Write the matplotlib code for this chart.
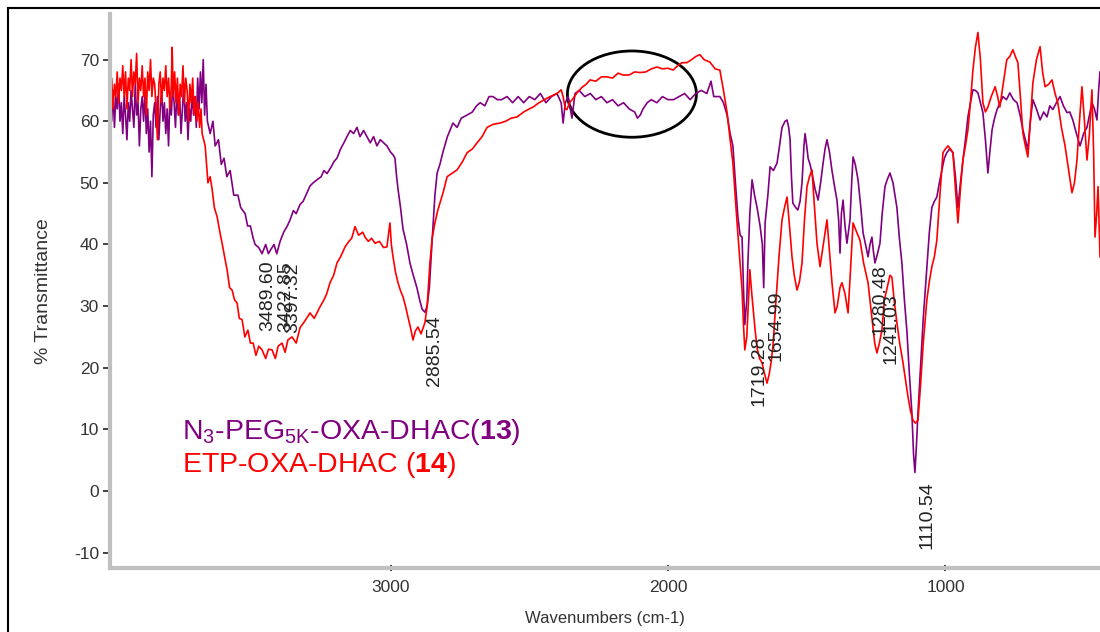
import numpy as np
import matplotlib
matplotlib.use("Agg")
from matplotlib import pyplot as plt
from matplotlib.patches import Ellipse
from matplotlib.lines import Line2D
import matplotlib.transforms as mtransforms

# N3-PEG5K-OXA-DHAC (13): wavenumber, %T
wn13 = [4010, 4005, 4000, 3995, 3990, 3985, 3980, 3975, 3970, 3965, 3960, 3955, 3950, 3945, 3940, 3935,
        3930, 3925, 3920, 3915, 3910, 3905, 3900, 3895, 3890, 3885, 3880, 3875, 3870, 3865, 3860, 3855,
        3850, 3845, 3840, 3835, 3830, 3825, 3820, 3815, 3810, 3805, 3800, 3795, 3790, 3785, 3780, 3775,
        3770, 3765, 3760, 3755, 3750, 3745, 3740, 3735, 3730, 3725, 3720, 3715, 3710, 3705, 3700, 3695,
        3690, 3685, 3680, 3675, 3670, 3665, 3660, 3650, 3640, 3632, 3620, 3610, 3600, 3590, 3578, 3565,
        3550, 3540, 3524, 3515, 3505, 3495, 3488, 3475, 3463, 3450, 3440, 3434, 3420, 3410, 3398, 3385,
        3372, 3362, 3350, 3340, 3326, 3315, 3300, 3290, 3279, 3265, 3250, 3240, 3229, 3215, 3203, 3193,
        3180, 3168, 3157, 3145, 3133, 3121, 3110, 3097, 3085, 3073, 3061, 3049, 3037, 3025, 3013, 3000,
        2990, 2984, 2978, 2973, 2964, 2955, 2942, 2930, 2918, 2905, 2895, 2886, 2876, 2868, 2860, 2850,
        2840, 2832, 2822, 2811, 2795, 2775, 2760, 2745, 2724, 2705, 2690, 2677, 2660, 2645, 2631, 2615,
        2600, 2580, 2560, 2540, 2520, 2500, 2480, 2460, 2440, 2420, 2400, 2385, 2378, 2370, 2360, 2346,
        2335, 2320, 2300, 2280, 2260, 2240, 2220, 2200, 2180, 2160, 2140, 2120, 2110, 2100, 2090, 2075,
        2060, 2040, 2020, 2000, 1980, 1960, 1940, 1920, 1900, 1880, 1860, 1845, 1835, 1813, 1800, 1787,
        1776, 1766, 1757, 1748, 1740, 1733, 1728, 1723, 1716, 1712, 1705, 1697, 1688, 1679, 1668, 1660,
        1655, 1650, 1640, 1632, 1620, 1607, 1598, 1589, 1578, 1571, 1565, 1560, 1555, 1550, 1540, 1532,
        1524, 1517, 1510, 1506, 1500, 1495, 1488, 1481, 1470, 1459, 1450, 1441, 1434, 1427, 1418, 1409,
        1400, 1391, 1385, 1380, 1375, 1369, 1362, 1355, 1344, 1338, 1333, 1325, 1315, 1305, 1297, 1288,
        1279, 1272, 1265, 1260, 1254, 1245, 1236, 1228, 1218, 1210, 1200, 1189, 1182, 1175, 1166, 1157,
        1148, 1139, 1130, 1121, 1115, 1110, 1105, 1099, 1090, 1080, 1067, 1058, 1049, 1040, 1031, 1022,
        1013, 1004, 995, 985, 973, 964, 955, 946, 937, 928, 919, 910, 901, 892, 883, 874,
        865, 856, 847, 840, 832, 823, 814, 803, 793, 780, 768, 755, 742, 731, 721, 712,
        703, 694, 685, 672, 659, 646, 634, 624, 613, 600, 587, 575, 562, 552, 541, 528,
        515, 502, 490, 481, 472, 463, 454, 448, 443]
t13 = [63, 60, 65, 59, 64, 62, 66, 60, 63, 58, 64, 61, 57, 63, 60, 65,
       62, 59, 66, 61, 63, 56, 62, 64, 60, 65, 58, 62, 55, 60, 51, 61,
       63, 59, 64, 57, 62, 65, 60, 63, 58, 62, 56, 64, 61, 66, 63, 59,
       65, 61, 64, 58, 62, 66, 60, 63, 57, 62, 60, 65, 61, 64, 59, 67,
       62, 68, 63, 70, 61, 66, 60, 58, 60, 56, 57, 53, 54, 51, 52, 48,
       48, 46, 45, 43, 43, 41, 40, 39.5, 38.5, 40, 38.5, 39, 40, 38.5, 40.5, 42,
       43, 44, 45.5, 45, 46.5, 47, 48.5, 49.5, 50, 50.5, 51, 52, 51.5, 52.5, 53.5, 54,
       55.5, 56.5, 57.5, 58.5, 58, 59, 57.5, 58.5, 57.5, 56.5, 57.5, 56, 57, 56.5, 56, 55,
       54.5, 54, 51, 49, 46, 42.5, 40, 37, 35, 33, 31, 29.5, 29, 30, 33, 40.7,
       48, 51.6, 53, 55, 57.5, 59.7, 59, 60.5, 61, 61.5, 62.5, 63, 62.5, 64, 64, 63.5,
       63.5, 64, 63, 64, 63, 64, 63.5, 64.5, 63, 64, 64.5, 63, 59.7, 63, 64, 60.5,
       64.5, 65, 64, 64.5, 63.5, 64, 63, 63.5, 62.5, 63, 62, 61.5, 60.5, 61, 62, 63,
       63.5, 63, 64, 63.5, 63.5, 64, 64.5, 63.5, 64.5, 65, 64.5, 66.5, 64, 64, 63, 61,
       58, 56, 50, 44.5, 41.5, 41.2, 33, 27, 31, 37, 45, 50.5, 48, 46, 43, 40,
       33, 43.5, 48, 52.6, 52, 53.2, 56, 59, 60, 60.2, 59, 57, 51, 46.7, 46, 45.6,
       47, 50, 56, 58, 56, 54, 53, 51.6, 49, 47.2, 50, 53.2, 55.5, 57, 55, 52,
       49.5, 47.2, 44, 38.6, 45, 47.2, 43, 40.2, 44, 50, 54.2, 53, 50.5, 46, 41.9, 40,
       38, 40, 41.2, 39, 37, 38.5, 40.2, 45, 49.4, 50.5, 51.6, 50, 48, 46, 41, 37,
       31, 26, 19, 12.7, 6, 3, 7, 12.7, 20, 28, 36.4, 42, 46, 47, 47.7, 50,
       52, 54, 54.9, 55.5, 54.9, 51, 46, 50, 53.7, 57, 60.7, 63, 65.1, 65, 64.6, 63,
       61.4, 57, 51.6, 55, 58.6, 60.5, 61.9, 63, 64, 63.5, 64.6, 63.5, 63, 61, 58.6, 57,
       55.4, 60, 63.5, 62, 60.2, 61.5, 60.7, 62.5, 61.9, 63, 64, 62.5, 61.4, 61.5, 60.2, 58,
       56, 58, 59, 61, 63, 62, 60.2, 65, 68]

# ETP-OXA-DHAC (14): wavenumber, %T
wn14 = [4010, 4005, 4000, 3995, 3990, 3985, 3980, 3975, 3970, 3965, 3960, 3955, 3950, 3945, 3940, 3935,
        3930, 3925, 3920, 3915, 3910, 3905, 3900, 3895, 3890, 3885, 3880, 3875, 3870, 3865, 3860, 3855,
        3850, 3845, 3840, 3835, 3830, 3825, 3820, 3815, 3810, 3805, 3800, 3795, 3790, 3787, 3783, 3778,
        3773, 3768, 3763, 3758, 3753, 3748, 3743, 3738, 3733, 3728, 3723, 3718, 3713, 3708, 3703, 3698,
        3693, 3688, 3683, 3679, 3668, 3658, 3650, 3643, 3635, 3625, 3615, 3607, 3598, 3589, 3580, 3571,
        3562, 3553, 3545, 3535, 3525, 3514, 3505, 3495, 3485, 3475, 3463, 3450, 3440, 3427, 3415, 3405,
        3391, 3380, 3370, 3355, 3340, 3326, 3310, 3290, 3275, 3254, 3240, 3230, 3218, 3205, 3193, 3180,
        3164, 3150, 3140, 3128, 3115, 3100, 3092, 3080, 3068, 3056, 3040, 3025, 3013, 3002, 2997, 2991,
        2982, 2973, 2964, 2955, 2946, 2937, 2928, 2919, 2910, 2901, 2890, 2876, 2868, 2858, 2850, 2840,
        2830, 2822, 2810, 2796, 2780, 2760, 2740, 2724, 2705, 2688, 2670, 2652, 2630, 2605, 2585, 2565,
        2544, 2520, 2500, 2486, 2465, 2445, 2425, 2400, 2385, 2378, 2370, 2364, 2355, 2345, 2328, 2310,
        2295, 2281, 2260, 2240, 2220, 2200, 2180, 2162, 2140, 2120, 2101, 2080, 2060, 2040, 2020, 2000,
        1982, 1965, 1950, 1932, 1915, 1900, 1885, 1870, 1860, 1849, 1830, 1813, 1800, 1787, 1776, 1766,
        1758, 1751, 1742, 1733, 1728, 1723, 1716, 1710, 1705, 1698, 1692, 1686, 1678, 1670, 1661, 1652,
        1643, 1635, 1628, 1622, 1612, 1600, 1589, 1580, 1571, 1562, 1553, 1545, 1535, 1526, 1517, 1508,
        1499, 1490, 1481, 1472, 1463, 1452, 1440, 1427, 1418, 1409, 1398, 1390, 1380, 1373, 1362, 1351,
        1342, 1333, 1320, 1308, 1295, 1279, 1265, 1255, 1247, 1238, 1229, 1220, 1210, 1200, 1193, 1185,
        1175, 1165, 1153, 1144, 1135, 1126, 1117, 1108, 1099, 1090, 1080, 1067, 1058, 1049, 1040, 1031,
        1020, 1009, 1000, 991, 982, 973, 964, 955, 946, 937, 928, 919, 910, 901, 892, 883,
        874, 865, 856, 847, 835, 821, 812, 804, 792, 779, 768, 757, 748, 739, 730, 721,
        712, 703, 694, 685, 672, 659, 650, 641, 628, 616, 605, 595, 582, 569, 556, 544,
        535, 526, 517, 508, 499, 490, 481, 472, 466, 461, 455, 450, 443]
t14 = [63, 67, 62, 66, 64, 68, 63, 67, 65, 69, 64, 68, 62, 67, 65, 70,
       64, 68, 66, 71, 63, 67, 65, 69, 64, 67, 61, 68, 65, 70, 64, 67,
       66, 62, 57, 66, 68, 63, 67, 65, 69, 64, 67, 62, 66, 72, 64, 68,
       63, 67, 61, 66, 64, 69, 63, 67, 65, 60, 66, 63, 67, 61, 64, 60,
       63, 59, 62, 58, 56, 50, 51, 49, 46, 44.5, 42, 40.2, 38, 35.9, 33, 32.6,
       31, 30.5, 28, 27.8, 25, 26.1, 24, 24, 22, 23.5, 22.9, 21.5, 23, 22.9, 21.5, 23.5,
       24, 22.5, 24.5, 25, 24, 26.5, 27.5, 28.9, 28, 29.9, 31, 32, 33.8, 35, 37, 38,
       39.6, 40.5, 41, 42.9, 41.5, 42, 41.2, 40.5, 41, 40.2, 40.5, 39.5, 39.6, 43.5, 40, 38,
       35.5, 33.8, 32.5, 31.5, 30, 28.2, 26.5, 24.5, 26, 26.6, 25.5, 27.3, 30, 37, 41, 43.5,
       45.5, 46.7, 48.5, 51, 51.5, 52.1, 53.5, 54.9, 55.5, 56.5, 57.5, 59, 59.5, 59.7, 60, 60.5,
       60.7, 61.5, 62, 62.3, 63, 63.5, 64, 64.5, 65.1, 64, 62, 61.9, 63, 63.5, 64.6, 65.5,
       66, 66.7, 66.5, 67.2, 67.2, 67, 67.8, 67.5, 67.5, 68, 67.9, 68, 68.5, 68.8, 68.5, 68.6,
       68.3, 69, 69.5, 69.5, 70, 70.5, 70.8, 70, 69.8, 69.6, 68.5, 68.3, 65, 61.4, 57, 53.2,
       48, 43.5, 38, 32.6, 27, 22.9, 25, 31, 35.9, 32, 29, 26.1, 23, 21.5, 20.8, 19,
       17.5, 19, 21, 23.4, 30, 38, 44, 46, 47.7, 43, 38, 35, 32.6, 34, 37, 44,
       49.4, 51, 52.1, 46, 40.2, 36.4, 40, 44, 39, 33.8, 28.9, 30, 33, 33.8, 32, 28.9,
       36, 43.5, 42, 40.7, 37, 33.8, 28, 24, 22.4, 24, 26.1, 31, 33, 35, 34.7, 31,
       27.3, 24, 20.8, 18, 15.3, 13, 11.5, 11, 11.5, 17, 24, 31, 34, 36.4, 38, 40.7,
       48, 54.9, 55.5, 56, 55.5, 54.9, 49, 43.5, 49, 53.7, 56, 58.6, 63, 68.3, 72, 74.4,
       70, 63, 61.5, 62.3, 64, 65.6, 64, 62.3, 66, 70, 70.5, 71.6, 70.5, 69.5, 64, 58.1,
       56, 54.2, 60, 66.2, 70, 72.1, 68, 65.6, 66, 66.7, 64.5, 63, 59, 56, 52, 48.4,
       50, 53.7, 60, 65.6, 60, 53.7, 58, 65.1, 55, 41.2, 45, 49.4, 38]

# peak labels: wavenumber, %T where the label starts
peak_wn = [3489.60, 3422.85, 3397.32, 2885.54, 1719.28, 1654.99, 1280.48, 1241.03, 1110.54]
peak_t = [37.8, 37.8, 37.5, 28.9, 25.6, 33.0, 37.2, 32.6, 2.1]

plt.rcParams['font.family'] = ['Liberation Sans', 'DejaVu Sans']
plt.rcParams['axes.unicode_minus'] = False
plt.rcParams['mathtext.fontset'] = 'custom'
plt.rcParams['mathtext.rm'] = 'Liberation Sans'
plt.rcParams['mathtext.it'] = 'Liberation Sans:italic'
plt.rcParams['mathtext.bf'] = 'Liberation Sans:bold'

fig = plt.figure(figsize=(11, 6.32), dpi=100)
ax = fig.add_axes([110/1100, 1-568/632, 990/1100, (568-14)/632])

ax.plot(wn13, t13, color='#800080', lw=1.2)
ax.plot(wn14, t14, color='#ff0000', lw=1.2)

ax.set_xlim(4011, 443)
ax.set_ylim(-12.5, 77.4)

ax.set_xticks([3000, 2000, 1000])
ax.set_xticks(np.arange(3800, 443, -200), minor=True)
ax.set_yticks(np.arange(-10, 71, 10))
ax.set_yticks(np.arange(-12.5, 77.5, 2.5), minor=True)

for s in ['top', 'right']:
    ax.spines[s].set_visible(False)
for s in ['left', 'bottom']:
    ax.spines[s].set_color('#c0c0c0')
    ax.spines[s].set_linewidth(3)

ax.tick_params(axis='y', which='major', direction='out', length=5, width=1.2, color='#222222',
               labelsize=12.5, labelcolor='#333333', pad=3)
ax.tick_params(axis='y', which='minor', direction='inout', length=3, width=1.2, color='#222222')
ax.tick_params(axis='x', which='major', direction='inout', length=5, width=1.2, color='#222222',
               labelsize=12.5, labelcolor='#333333', pad=6)
ax.tick_params(axis='x', which='minor', direction='inout', length=3, width=1.2, color='#222222')

ax.set_ylabel('% Transmittance', fontsize=14, color='#333333', labelpad=16)
ax.set_xlabel('Wavenumbers (cm-1)', fontsize=12, color='#333333', labelpad=12)

# peak labels
off = mtransforms.offset_copy(ax.transData, fig=fig, x=3, y=-2, units='points')
for w, t in zip(peak_wn, peak_t):
    ax.text(w, t, '%.2f' % w, rotation=90, ha='left', va='top', fontsize=14,
            color='#222222', transform=off)

ax.add_patch(Ellipse((2130, 64.4), 465, 14, fill=False, ec='black', lw=2))

ax.text(182/1100, 1-432/632, r'N$_3$-PEG$_{\mathrm{5K}}$-OXA-DHAC($\mathbf{13}$)', transform=fig.transFigure,
        fontsize=20.5, color='#800080', va='center', ha='left')
ax.text(182/1100, 1-465/632, r'ETP-OXA-DHAC ($\mathbf{14}$)', transform=fig.transFigure,
        fontsize=20.5, color='#ff0000', va='center', ha='left')

# outer frame (top and left visible)
fig.add_artist(Line2D([8/1100, 1.0], [1-8/632, 1-8/632], transform=fig.transFigure, color='black', lw=1.5))
fig.add_artist(Line2D([8/1100, 8/1100], [0, 1-8/632], transform=fig.transFigure, color='black', lw=1.5))

fig.savefig('out.png', dpi=100)
